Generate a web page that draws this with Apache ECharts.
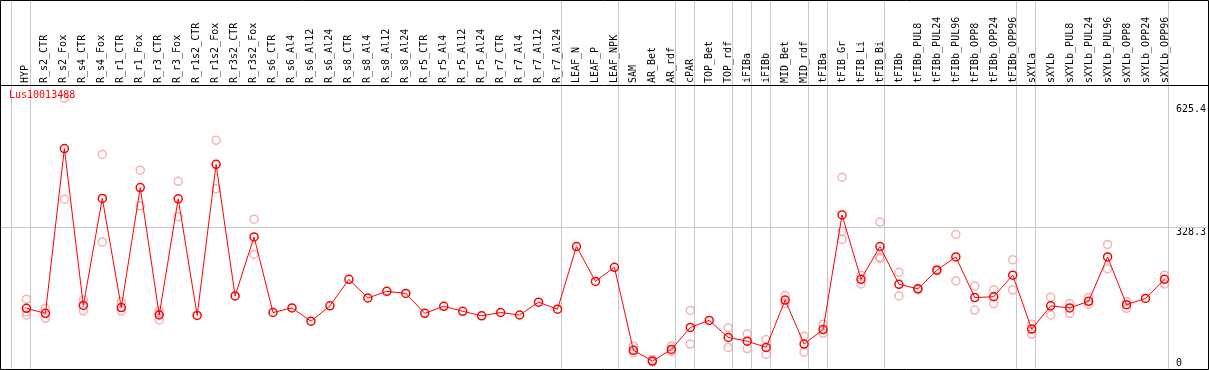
<!DOCTYPE html>
<html>
<head>
<meta charset="utf-8">
<script src="https://cdn.jsdelivr.net/npm/echarts@6/dist/echarts.min.js"></script>
<style>
  html, body { margin: 0; padding: 0; background: #fff; }
  #chart { width: 1209px; height: 370px; }
</style>
</head>
<body>
<div id="chart"></div>
<script>
// 样品名称
var categories = ['HYP', 'R_s2_CTR', 'R_s2_Fox', 'R_s4_CTR', 'R_s4_Fox', 'R_r1_CTR', 'R_r1_Fox', 'R_r3_CTR', 'R_r3_Fox',
  'R_r1s2_CTR', 'R_r1s2_Fox', 'R_r3s2_CTR', 'R_r3s2_Fox', 'R_s6_CTR', 'R_s6_Al4', 'R_s6_Al12', 'R_s6_Al24',
  'R_s8_CTR', 'R_s8_Al4', 'R_s8_Al12', 'R_s8_Al24', 'R_r5_CTR', 'R_r5_Al4', 'R_r5_Al12', 'R_r5_Al24',
  'R_r7_CTR', 'R_r7_Al4', 'R_r7_Al12', 'R_r7_Al24', 'LEAF_N', 'LEAF_P', 'LEAF_NPK', 'SAM', 'AR_Bet', 'AR_rdf',
  'cPAR', 'TOP_Bet', 'TOP_rdf', 'iFIBa', 'iFIBb', 'MID_Bet', 'MID_rdf', 'tFIBa', 'tFIB_Gr', 'tFIB_Li', 'tFIB_Bi',
  'tFIBb', 'tFIBb_PUL8', 'tFIBb_PUL24', 'tFIBb_PUL96', 'tFIBb_OPP8', 'tFIBb_OPP24', 'tFIBb_OPP96',
  'sXYLa', 'sXYLb', 'sXYLb_PUL8', 'sXYLb_PUL24', 'sXYLb_PUL96', 'sXYLb_OPP8', 'sXYLb_OPP24', 'sXYLb_OPP96'];

// 平均值
var meanValues = [133, 121, 518, 140, 398, 135, 424, 117, 397,
  116, 480, 163, 305, 123, 134, 102, 139,
  203, 158, 174, 169, 121, 138, 126, 115,
  123, 117, 148, 131, 282, 198, 232, 32, 6, 34,
  87, 104, 63, 54, 39, 153, 47, 82, 358, 203, 282,
  191, 180, 225, 257, 159, 161, 213,
  83, 139, 134, 150, 257, 142, 157, 203];

// 重复样本
var rep1 = [155, 133, 639, 153, 504, 149, 466, 127, 439,
  null, 538, null, 348, null, null, null, null,
  null, null, null, null, null, null, null, null,
  null, null, null, null, null, null, null, 42, 10, 42,
  128, null, 86, 71, 58, 164, 66, 95, 449, 213, 341,
  220, 181, 227, 311, 187, 178, 250,
  95, 160, 145, 159, 287, 149, null, 213];
var rep2 = [124, 109, 396, 127, 293, 127, 380, 121, 354,
  null, 421, null, 263, null, null, null, null,
  null, null, null, null, null, null, null, null,
  null, null, null, null, null, null, null, 26, 4, 29,
  47, null, 39, 36, 22, 145, 27, 73, 319, 192, 257,
  163, 178, 224, 199, 129, 144, 177,
  71, 117, 121, 143, 228, 133, null, 192];
var rep3 = [117, null, null, null, null, null, null, 105, null,
  null, null, null, null, null, null, null, null,
  null, null, null, null, null, null, null, null,
  null, null, null, null, null, null, null, null, null, null,
  null, null, null, null, null, null, null, null, 299, null, 253,
  null, null, null, null, null, null, null,
  null, null, null, null, null, null, null, null];

// 分组分隔线(在这些样品之后)
var groupEnds = [-1, 0, 28, 31, 34, 35, 37, 38, 39, 41, 42, 45, 52, 53, 60];

var axisTicks = [328.3, 625.4];
var titleText = 'Lus10013488';

var monoFont = 'DejaVu Sans Mono';

var meanData = [];
for (var i = 0; i < meanValues.length; i++) {
  meanData.push([i, meanValues[i]]);
}
var repData = [];
[rep1, rep2, rep3].forEach(function (r) {
  for (var i = 0; i < r.length; i++) {
    if (r[i] != null) repData.push([i, r[i]]);
  }
});

var lineData = groupEnds.map(function (g) { return { xAxis: g + 0.21 }; });
lineData.push({ yAxis: axisTicks[0] });

var myChart = echarts.init(document.getElementById('chart'));
var option = {
  animation: false,
  title: {
    text: titleText,
    left: 9,
    top: 90,
    padding: 0,
    textStyle: { fontFamily: monoFont, fontSize: 10, fontWeight: 'normal', color: '#ff0000' }
  },
  grid: [
    { left: 0, top: 0, width: 1208, height: 369 },
    { left: 15.5, top: 0, width: 1159, height: 85 }
  ],
  xAxis: [
    {
      gridIndex: 0, type: 'value', min: -1.3947, max: 62.184, show: false
    },
    {
      gridIndex: 1, type: 'category', data: categories, position: 'bottom',
      axisLine: { show: false }, axisTick: { show: false }, splitLine: { show: false },
      axisLabel: {
        inside: true, rotate: 90, margin: 2, interval: 0,
        fontFamily: monoFont, fontSize: 10, color: '#000'
      }
    }
  ],
  yAxis: [
    {
      gridIndex: 0, type: 'value', min: -13.1, max: 876, position: 'right',
      axisLine: { show: false }, axisTick: { show: false }, splitLine: { show: false },
      axisLabel: {
        inside: true, margin: 30, align: 'left', verticalAlign: 'top',
        customValues: axisTicks,
        fontFamily: monoFont, fontSize: 10, color: '#000'
      }
    },
    {
      gridIndex: 0, type: 'value', min: -13.1, max: 876, position: 'right',
      axisLine: { show: false }, axisTick: { show: false }, splitLine: { show: false },
      axisLabel: {
        inside: true, margin: 30, align: 'left', verticalAlign: 'middle',
        customValues: [0],
        fontFamily: monoFont, fontSize: 10, color: '#000'
      }
    },
    { gridIndex: 1, type: 'value', show: false }
  ],
  graphic: [
    {
      type: 'rect', z: 100, silent: true,
      shape: { x: 0.5, y: 0.5, width: 1208, height: 369 },
      style: { fill: 'none', stroke: '#000', lineWidth: 1 }
    },
    {
      type: 'line', z: 100, silent: true,
      shape: { x1: 0, y1: 85.5, x2: 1209, y2: 85.5 },
      style: { stroke: '#000', lineWidth: 1 }
    }
  ],
  series: [
    {
      name: 'replicates',
      type: 'scatter',
      xAxisIndex: 0, yAxisIndex: 0,
      symbol: 'circle',
      symbolSize: 8,
      z: 2,
      itemStyle: { color: 'transparent', borderColor: '#f0a0a0', borderWidth: 1.5 },
      data: repData,
      markLine: {
        silent: true,
        symbol: 'none',
        z: 1,
        label: { show: false },
        lineStyle: { color: '#c8c8c8', width: 1, type: 'solid' },
        data: lineData
      }
    },
    {
      name: 'mean',
      type: 'line',
      xAxisIndex: 0, yAxisIndex: 0,
      symbol: 'circle',
      symbolSize: 8,
      z: 3,
      lineStyle: { color: '#ff0000', width: 1 },
      itemStyle: { color: 'transparent', borderColor: '#ff0000', borderWidth: 1.5 },
      data: meanData
    }
  ]
};
myChart.setOption(option);
</script>
</body>
</html>
